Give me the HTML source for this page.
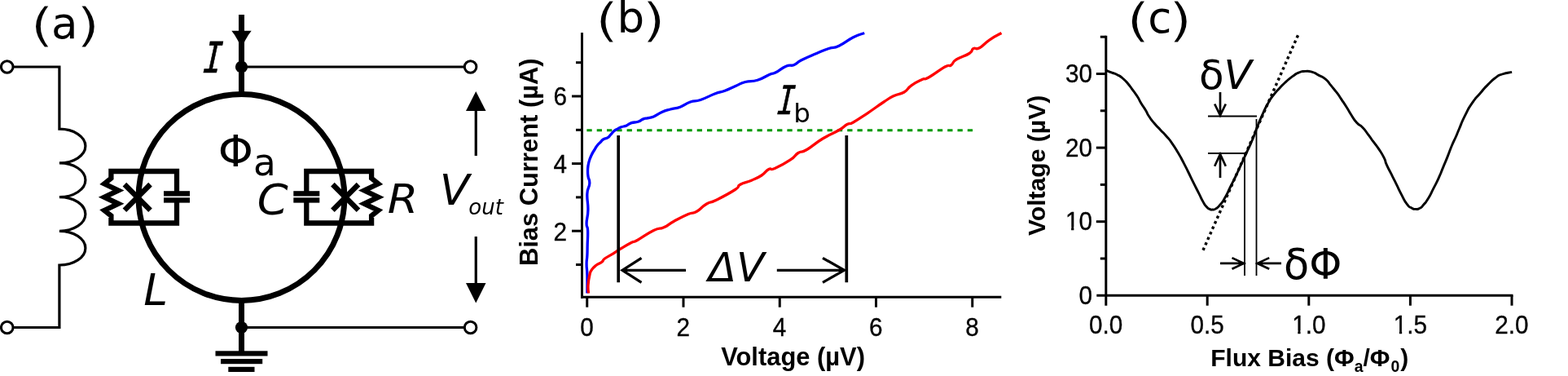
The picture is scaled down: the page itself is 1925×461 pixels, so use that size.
<!DOCTYPE html>
<html lang="en">
<head>
<meta charset="utf-8">
<title>SQUID figure</title>
<style>
html,body{margin:0;padding:0;background:#fff;}
body{width:1925px;height:461px;overflow:hidden;}
svg{display:block;}
text{white-space:pre;}
</style>
</head>
<body>
<svg width="1925" height="461" viewBox="0 0 1925 461">
<rect x="0" y="0" width="1925" height="461" fill="#fff"/>
<g id="panel-a">
<g fill="none" stroke="#000" stroke-width="3.2">
<path d="M15.5 82 H72.9 V158.2 A32 20.85 0 0 1 72.9 199.9 A32 20.85 0 0 1 72.9 241.6 A32 20.85 0 0 1 72.9 283.3 A32 20.85 0 0 1 72.9 325 V401.5 H15.5"/>
<circle cx="8.7" cy="82" r="7.3" stroke-width="3"/><circle cx="8.7" cy="401.5" r="7.3" stroke-width="3"/>
<path d="M296.5 82 H571"/><path d="M296.5 401.5 H571"/>
<circle cx="577.6" cy="82" r="7.3" stroke-width="3"/><circle cx="577.6" cy="401.5" r="7.3" stroke-width="3"/>
<path d="M584.25 130 V191"/><path d="M584.25 290 V350"/>
</g>
<path d="M584.25 112 L596.5 136 H572 Z" fill="#000"/>
<path d="M584.25 371.5 L596.5 347 H572 Z" fill="#000"/>
<g fill="none" stroke="#000" stroke-width="7">
<circle cx="296.5" cy="242" r="126.4"/>
<path d="M296.5 18 V116"/><path d="M296.5 368 V431"/>
</g>
<circle cx="296.5" cy="82" r="7.6" fill="#000"/><circle cx="296.5" cy="401.5" r="7.6" fill="#000"/>
<path d="M284.3 37.8 H308.7 Q299.5 49 296.5 62.5 Q293.5 49 284.3 37.8 Z" fill="#000"/>
<rect x="264.5" y="430.3" width="64" height="6.2" fill="#000"/>
<rect x="271" y="440" width="51.2" height="6.2" fill="#000"/>
<rect x="280.3" y="449.8" width="32.2" height="6.2" fill="#000"/>
<g fill="none" stroke="#000" stroke-width="6.3" stroke-linejoin="miter" stroke-miterlimit="10">
<polyline points="217.00,237.00 217.00,210.00 136.40,210.00 136.40,218.60 128.10,225.40 145.20,233.50 128.10,241.70 145.20,249.80 128.10,258.00 136.40,264.60 136.40,273.50 217.00,273.50 217.00,246.00"/>
</g>
<rect x="201" y="234.2" width="32" height="6.3" fill="#000"/>
<rect x="201" y="242.3" width="32" height="6.3" fill="#000"/>
<g fill="none" stroke="#000" stroke-width="6.3" stroke-linejoin="miter" stroke-miterlimit="10">
<polyline points="376.30,237.00 376.30,210.00 456.10,210.00 456.10,218.60 464.40,225.40 447.30,233.50 464.40,241.70 447.30,249.80 464.40,258.00 456.10,264.60 456.10,273.50 376.30,273.50 376.30,246.00"/>
</g>
<rect x="360.3" y="234.2" width="32" height="6.3" fill="#000"/>
<rect x="360.3" y="242.3" width="32" height="6.3" fill="#000"/>
<path d="M152.89999999999998 226.1 L184.5 257.7 M152.89999999999998 257.7 L184.5 226.1" stroke="#000" stroke-width="6.5" fill="none"/>
<path d="M408.4 226.1 L440.0 257.7 M408.4 257.7 L440.0 226.1" stroke="#000" stroke-width="6.5" fill="none"/>
<g font-family="'DejaVu Sans', sans-serif" fill="#000">
<text transform="translate(36.77 50.30) scale(1.32 1)" font-size="57.8" stroke="#fff" stroke-width="1.1">(</text><text x="63.12" y="47.1" font-size="53">a</text><text transform="translate(93.17 50.30) scale(1.32 1)" font-size="57.8" stroke="#fff" stroke-width="1.1">)</text>
<text transform="translate(248.7 88.7) skewX(-4) scale(0.75 1)" font-size="52.2" font-family="'DejaVu Sans Mono', monospace" font-style="italic" stroke="#000" stroke-width="0.7">I</text>
<text transform="translate(267.66 204.20) scale(1.02 1)" font-size="53.8" font-family="'DejaVu Sans', sans-serif">Φ</text>
<text x="310.98" y="214.70" font-size="45.3" font-family="'DejaVu Sans', sans-serif">a</text>
<text transform="translate(315.83 263.00) scale(1.05 1)" font-size="51.7" font-family="'DejaVu Sans', sans-serif" font-style="italic">C</text>
<text transform="translate(475.72 261.00) scale(1.08 1)" font-size="50.0" font-family="'DejaVu Sans', sans-serif" font-style="italic">R</text>
<text x="176.13" y="373.70" font-size="53.5" font-family="'DejaVu Sans', sans-serif" font-style="italic">L</text>
<text transform="translate(539.75 250.60) scale(1.04 1)" font-size="51.5" font-family="'DejaVu Sans', sans-serif" font-style="italic">V</text>
<text x="575.26" y="263.30" font-size="26.0" font-family="'DejaVu Sans', sans-serif" font-style="italic">out</text>
</g>
</g>
<g id="panel-b">
<g fill="none" stroke="#000" stroke-width="3">
<path d="M714.5 40 V365.7"/><path d="M713 364.3 H1229.3"/>
<path d="M707.0 324.50 H714.5"/>
<path d="M702.0 283.20 H714.5"/>
<path d="M707.0 241.90 H714.5"/>
<path d="M702.0 200.60 H714.5"/>
<path d="M707.0 159.30 H714.5"/>
<path d="M702.0 118.00 H714.5"/>
<path d="M707.0 76.70 H714.5"/>
<path d="M720.75 364.3 V376.7"/>
<path d="M839.00 364.3 V376.7"/>
<path d="M957.25 364.3 V376.7"/>
<path d="M1075.50 364.3 V376.7"/>
<path d="M1193.75 364.3 V376.7"/>
</g>
<path d="M720.4 159.7 H1195" stroke="#009900" stroke-width="3" stroke-dasharray="6.3 6" fill="none"/>
<path d="M720.9 359.5 C720.9 353.6 721.1 347.0 720.9 337.5 C720.7 328.0 720.1 330.3 720.1 323.8 C720.1 317.2 720.6 319.3 720.9 313.0 C721.2 306.7 721.0 308.1 721.2 300.0 C721.4 291.9 721.9 289.5 721.6 282.5 C721.4 275.5 720.0 280.4 720.1 273.8 C720.2 267.1 721.7 267.2 721.9 257.5 C722.1 247.8 720.4 246.2 720.9 237.5 C721.4 228.8 723.5 230.7 723.8 225.0 C724.1 219.3 722.6 220.9 722.0 216.2 C721.4 211.5 721.4 212.1 721.6 207.5 C721.8 202.9 721.7 203.5 722.9 198.9 C724.1 194.3 724.1 194.5 726.1 190.2 C728.1 185.9 728.5 185.9 730.5 182.6 C732.5 179.3 731.6 180.3 733.5 178.0 C735.4 175.7 735.6 175.9 737.5 174.0 C739.4 172.1 738.3 172.4 740.5 171.0 C742.7 169.6 743.4 170.3 745.9 168.8 C748.4 167.3 747.5 167.4 749.7 165.2 C751.9 163.0 751.7 162.5 754.0 160.6 C756.3 158.7 756.1 159.2 758.4 157.9 C760.7 156.6 759.8 156.9 762.7 155.8 C765.6 154.7 765.9 155.3 769.2 153.9 C772.5 152.5 771.4 151.8 775.2 150.6 C779.0 149.4 779.4 150.6 783.3 149.3 C787.2 148.0 786.7 147.1 789.8 145.9 C792.9 144.7 791.6 145.6 795.0 144.8 C798.4 144.0 797.8 144.9 802.5 143.0 C807.2 141.1 807.0 139.9 812.5 137.5 C818.0 135.1 817.0 135.7 823.0 134.0 C829.0 132.3 828.5 133.7 835.0 131.2 C841.5 128.8 840.8 127.3 847.5 125.0 C854.2 122.7 852.0 125.2 860.0 122.5 C868.0 119.8 869.5 118.0 877.5 115.0 C885.5 112.0 883.2 113.8 890.0 111.2 C896.8 108.7 896.3 108.4 903.0 105.5 C909.7 102.6 907.8 102.4 915.0 100.5 C922.2 98.6 922.0 100.7 930.0 98.2 C938.0 95.8 939.0 93.8 945.0 91.2 C951.0 88.7 947.2 91.4 952.5 88.8 C957.8 86.1 959.0 83.7 965.0 81.2 C971.0 78.8 970.0 81.5 975.0 79.5 C980.0 77.5 976.4 77.5 983.8 73.8 C991.1 70.0 993.5 69.3 1002.5 65.5 C1011.5 61.7 1010.2 62.0 1017.5 59.5 C1024.8 57.0 1022.0 59.9 1030.0 56.2 C1038.0 52.6 1039.2 50.0 1047.5 45.8 C1055.8 41.5 1057.6 41.9 1061.2 40.5" fill="none" stroke="#0000ff" stroke-width="3.3" stroke-linejoin="round"/>
<path d="M722.5 359.5 C722.4 357.0 721.7 355.9 722.0 350.0 C722.3 344.1 722.6 342.5 723.8 337.5 C724.9 332.5 724.2 334.4 726.2 331.2 C728.2 328.1 727.9 328.4 731.2 325.8 C734.6 323.1 735.8 323.6 738.8 321.2 C741.8 318.9 738.8 319.7 742.5 317.0 C746.2 314.3 747.8 314.1 752.5 311.2 C757.2 308.4 754.0 309.9 760.0 306.2 C766.0 302.6 769.0 300.6 775.0 297.5 C781.0 294.4 775.2 298.5 782.5 294.5 C789.8 290.5 793.8 286.7 802.5 282.5 C811.2 278.3 808.3 281.8 815.0 278.8 C821.7 275.8 819.5 275.6 827.5 271.2 C835.5 266.9 837.7 265.6 845.0 262.5 C852.3 259.4 849.0 262.8 855.0 259.5 C861.0 256.2 860.8 253.9 867.5 250.0 C874.2 246.1 870.7 249.7 880.0 245.0 C889.3 240.3 894.8 237.5 902.5 232.5 C910.2 227.5 903.4 229.2 908.8 226.2 C914.1 223.2 915.5 224.2 922.5 221.2 C929.5 218.2 929.3 218.7 935.0 215.0 C940.7 211.3 939.4 209.8 943.8 207.5 C948.1 205.2 944.2 209.5 951.2 206.5 C958.2 203.5 962.3 201.3 970.0 196.2 C977.7 191.2 974.7 190.8 980.0 187.5 C985.3 184.2 982.0 188.4 990.0 183.8 C998.0 179.1 999.3 176.5 1010.0 170.0 C1020.7 163.5 1022.0 164.2 1030.0 159.5 C1038.0 154.8 1035.3 155.0 1040.0 152.5 C1044.7 150.0 1040.8 153.7 1047.5 150.0 C1054.2 146.3 1055.0 145.4 1065.0 138.8 C1075.0 132.1 1076.3 130.7 1085.0 125.0 C1093.7 119.3 1090.8 120.7 1097.5 117.5 C1104.2 114.3 1104.3 116.4 1110.0 113.0 C1115.7 109.6 1112.9 108.9 1118.8 104.8 C1124.6 100.6 1126.3 100.1 1132.0 97.5 C1137.7 94.9 1132.5 99.1 1140.0 95.0 C1147.5 90.9 1152.7 86.0 1160.0 82.0 C1167.3 78.0 1163.8 82.3 1167.5 80.0 C1171.2 77.7 1167.8 77.1 1173.8 73.2 C1179.8 69.4 1184.3 69.2 1190.0 65.5 C1195.7 61.8 1191.7 61.3 1195.0 59.5 C1198.3 57.7 1197.2 61.6 1202.5 58.8 C1207.8 55.9 1207.8 53.6 1215.0 48.8 C1222.2 43.9 1225.6 42.7 1229.5 40.5" fill="none" stroke="#ff0000" stroke-width="3.3" stroke-linejoin="round"/>
<g fill="none" stroke="#000" stroke-width="3.7">
<path d="M759.2 166 V346.3"/><path d="M1039.3 166 V346.3"/>
</g>
<g fill="none" stroke="#000" stroke-width="3.2">
<path d="M842 331.3 H764.5 M787.5 316.3 L764 331.3 L787.5 346.3"/>
<path d="M953.8 331.3 H1036 M1010 316.3 L1036.5 331.3 L1010 346.3"/>
</g>
<g font-family="'Liberation Sans', sans-serif" font-size="30" fill="#000">
<text transform="translate(696.00 294.50) scale(0.94 1)" font-size="31.6" text-anchor="end" stroke="#000" stroke-width="0.35">2</text>
<text transform="translate(696.00 211.90) scale(0.94 1)" font-size="31.6" text-anchor="end" stroke="#000" stroke-width="0.35">4</text>
<text transform="translate(696.00 129.30) scale(0.94 1)" font-size="31.6" text-anchor="end" stroke="#000" stroke-width="0.35">6</text>
<text transform="translate(720.45 412.30) scale(0.94 1)" font-size="31.6" text-anchor="middle" stroke="#000" stroke-width="0.35">0</text>
<text transform="translate(838.70 412.30) scale(0.94 1)" font-size="31.6" text-anchor="middle" stroke="#000" stroke-width="0.35">2</text>
<text transform="translate(956.95 412.30) scale(0.94 1)" font-size="31.6" text-anchor="middle" stroke="#000" stroke-width="0.35">4</text>
<text transform="translate(1075.20 412.30) scale(0.94 1)" font-size="31.6" text-anchor="middle" stroke="#000" stroke-width="0.35">6</text>
<text transform="translate(1193.45 412.30) scale(0.94 1)" font-size="31.6" text-anchor="middle" stroke="#000" stroke-width="0.35">8</text>
<text x="973.6" y="448" text-anchor="middle" font-weight="bold" font-size="30.9">Voltage (µV)</text>
<text transform="translate(659.5 198.7) rotate(-90)" text-anchor="middle" font-weight="bold" font-size="30.9">Bias Current (µA)</text>
</g>
<g font-family="'DejaVu Sans', sans-serif" fill="#000">
<text transform="translate(730.37 43.60) scale(1.32 1)" font-size="57.8" stroke="#fff" stroke-width="1.1">(</text><text x="757.43" y="40.4" font-size="53">b</text><text transform="translate(787.67 43.60) scale(1.32 1)" font-size="57.8" stroke="#fff" stroke-width="1.1">)</text>
<text x="869.6" y="344.6" font-size="50.4" font-style="italic">ΔV</text>
<text transform="translate(953.6 140.2) skewX(-4) scale(0.75 1)" font-size="48.4" font-family="'DejaVu Sans Mono', monospace" font-style="italic" stroke="#000" stroke-width="0.7">I</text>
<text x="974.28" y="149.80" font-size="32.5" font-family="'DejaVu Sans', sans-serif">b</text>
</g>
</g>
<g id="panel-c">
<g fill="none" stroke="#000" stroke-width="3">
<path d="M1357.8 43.7 V374.7"/><path d="M1346.3 362.3 H1857.5"/>
<path d="M1350.8 317.00 H1357.8"/>
<path d="M1345.8 271.70 H1357.8"/>
<path d="M1350.8 226.40 H1357.8"/>
<path d="M1345.8 181.10 H1357.8"/>
<path d="M1350.8 135.80 H1357.8"/>
<path d="M1345.8 90.50 H1357.8"/>
<path d="M1350.8 45.20 H1357.8"/>
<path d="M1482.20 362.3 V374.7"/>
<path d="M1606.80 362.3 V374.7"/>
<path d="M1731.40 362.3 V374.7"/>
<path d="M1856.00 362.3 V374.7"/>
</g>
<path d="M1358.0 86.4 C1360.4 87.3 1360.6 87.3 1365.2 89.1 C1369.8 90.9 1367.4 89.4 1371.7 91.7 C1376.0 94.0 1373.9 92.4 1378.2 96.0 C1382.5 99.6 1380.4 97.4 1384.7 102.5 C1389.0 107.6 1387.2 105.8 1391.2 111.2 C1395.2 116.6 1393.3 113.6 1396.6 118.8 C1399.9 124.0 1397.7 121.4 1401.0 126.8 C1404.3 132.2 1403.2 129.7 1406.4 135.0 C1409.6 140.3 1407.1 137.3 1410.7 142.7 C1414.3 148.1 1412.5 145.7 1417.2 151.3 C1421.9 156.9 1420.0 154.3 1424.8 159.4 C1429.6 164.5 1426.8 161.0 1431.5 166.5 C1436.2 172.0 1434.0 168.7 1439.0 175.8 C1444.0 182.9 1442.3 180.6 1446.6 187.8 C1450.9 195.0 1448.0 189.9 1452.0 197.5 C1456.0 205.1 1454.3 201.8 1458.6 210.5 C1462.9 219.2 1460.7 214.9 1465.0 223.6 C1469.3 232.3 1467.6 228.7 1471.6 236.6 C1475.6 244.5 1473.8 241.8 1477.0 247.4 C1480.2 253.0 1478.6 250.5 1481.3 253.5 C1484.0 256.5 1482.8 255.2 1485.2 256.4 C1487.6 257.6 1486.1 257.2 1488.6 257.0 C1491.1 256.8 1489.4 258.0 1492.6 255.9 C1495.8 253.8 1494.4 255.3 1498.2 250.7 C1502.0 246.1 1500.0 249.2 1504.1 242.0 C1508.2 234.8 1506.3 237.7 1510.6 229.0 C1514.9 220.3 1512.8 225.0 1517.1 216.0 C1521.4 207.0 1519.3 211.3 1523.6 201.9 C1527.9 192.5 1526.1 196.5 1530.1 187.8 C1534.1 179.1 1532.5 182.9 1535.6 175.8 C1538.7 168.7 1536.7 173.6 1539.5 166.5 C1542.3 159.4 1540.3 163.6 1543.9 154.6 C1547.5 145.6 1546.1 148.8 1550.4 139.4 C1554.7 130.0 1552.6 134.0 1556.9 126.4 C1561.2 118.8 1558.7 122.7 1563.4 116.6 C1568.1 110.5 1565.9 113.4 1571.0 108.0 C1576.1 102.6 1573.2 105.3 1578.6 100.4 C1584.0 95.5 1581.8 97.2 1587.2 93.4 C1592.6 89.6 1589.7 90.9 1594.8 88.9 C1599.9 86.9 1597.0 87.6 1602.4 87.4 C1607.8 87.2 1605.7 86.8 1611.1 88.4 C1616.5 90.0 1613.3 89.2 1618.7 92.1 C1624.1 95.0 1622.3 92.9 1627.4 97.1 C1632.5 101.3 1629.6 99.5 1633.9 104.7 C1638.2 109.9 1636.1 107.0 1640.4 112.6 C1644.7 118.2 1642.4 115.2 1646.7 121.6 C1651.0 128.0 1649.5 125.6 1653.4 131.8 C1657.3 138.0 1654.5 134.0 1658.5 140.2 C1662.5 146.4 1660.7 145.0 1665.5 150.3 C1670.3 155.6 1668.0 151.2 1672.8 156.2 C1677.6 161.2 1675.6 159.6 1680.0 165.4 C1684.4 171.2 1681.8 168.0 1686.0 173.7 C1690.2 179.4 1688.2 175.9 1692.5 182.4 C1696.8 188.9 1695.7 186.7 1699.0 193.2 C1702.3 199.7 1699.4 195.4 1702.3 201.9 C1705.2 208.4 1703.7 204.8 1707.7 212.7 C1711.7 220.6 1709.9 217.0 1714.2 225.7 C1718.5 234.4 1716.4 230.6 1720.7 238.8 C1725.0 247.0 1723.2 244.9 1727.2 250.2 C1731.2 255.5 1729.1 252.7 1732.7 254.8 C1736.3 256.9 1734.5 256.3 1738.1 256.4 C1741.7 256.5 1740.2 256.9 1743.5 255.0 C1746.8 253.1 1744.6 254.5 1747.9 250.7 C1751.2 246.9 1749.3 250.1 1753.3 243.6 C1757.3 237.1 1755.5 239.7 1759.8 231.2 C1764.1 222.7 1762.3 226.8 1766.3 218.1 C1770.3 209.4 1768.1 213.8 1771.7 205.1 C1775.3 196.4 1773.5 201.1 1777.1 192.1 C1780.7 183.1 1779.2 186.0 1782.6 178.0 C1786.0 170.0 1784.3 174.5 1787.2 168.0 C1790.1 161.5 1787.4 167.3 1791.2 158.5 C1795.0 149.7 1793.2 152.3 1798.6 141.6 C1804.0 130.9 1801.1 135.4 1807.3 126.4 C1813.5 117.4 1810.6 122.1 1817.1 114.5 C1823.6 106.9 1820.3 110.1 1826.8 103.6 C1833.3 97.1 1830.8 99.1 1836.6 94.9 C1842.4 90.7 1837.7 93.2 1844.2 91.0 C1850.7 88.8 1852.1 89.3 1856.1 88.4" fill="none" stroke="#000" stroke-width="2.9" stroke-linejoin="round"/>
<path d="M1593.5 43.25 L1477 306.75" stroke="#000" stroke-width="3.4" stroke-dasharray="3.4 3.72" fill="none"/>
<g fill="none" stroke="#000" stroke-width="1.8">
<path d="M1483 142.5 H1543"/><path d="M1483 188 H1528.8"/>
<path d="M1528 188 V338"/><path d="M1542.5 146 V338"/>
</g>
<g fill="none" stroke="#000" stroke-width="2.7">
<path d="M1498 113 V141 M1491.2 127.5 L1498 141.5 L1504.8 127.5"/>
<path d="M1498 218 V189.5 M1491.2 203.8 L1498 189 L1504.8 203.8"/>
<path d="M1498 322.9 H1526.5 M1512.5 316.1 L1527 322.9 L1512.5 329.7"/>
<path d="M1573 322.9 H1544 M1558.2 316.1 L1543.7 322.9 L1558.2 329.7"/>
</g>
<g font-family="'Liberation Sans', sans-serif" font-size="30" fill="#000">
<text transform="translate(1341.00 372.80) scale(0.94 1)" font-size="31.6" text-anchor="end" stroke="#000" stroke-width="0.35">0</text>
<text transform="translate(1341.00 282.20) scale(0.94 1)" font-size="31.6" text-anchor="end" stroke="#000" stroke-width="0.35">10</text><rect x="1308.62" y="278.06" width="6.49" height="6.04" fill="#fff"/><rect x="1318.37" y="278.06" width="6.26" height="6.04" fill="#fff"/>
<text transform="translate(1341.00 191.60) scale(0.94 1)" font-size="31.6" text-anchor="end" stroke="#000" stroke-width="0.35">20</text>
<text transform="translate(1341.00 101.00) scale(0.94 1)" font-size="31.6" text-anchor="end" stroke="#000" stroke-width="0.35">30</text>
<text transform="translate(1357.60 409.30) scale(0.94 1)" font-size="31.6" text-anchor="middle" stroke="#000" stroke-width="0.35">0.0</text>
<text transform="translate(1482.20 409.30) scale(0.94 1)" font-size="31.6" text-anchor="middle" stroke="#000" stroke-width="0.35">0.5</text>
<text transform="translate(1606.80 409.30) scale(0.94 1)" font-size="31.6" text-anchor="middle" stroke="#000" stroke-width="0.35">1.0</text><rect x="1586.82" y="405.16" width="6.49" height="6.04" fill="#fff"/><rect x="1596.56" y="405.16" width="6.26" height="6.04" fill="#fff"/>
<text transform="translate(1731.40 409.30) scale(0.94 1)" font-size="31.6" text-anchor="middle" stroke="#000" stroke-width="0.35">1.5</text><rect x="1711.42" y="405.16" width="6.49" height="6.04" fill="#fff"/><rect x="1721.16" y="405.16" width="6.26" height="6.04" fill="#fff"/>
<text transform="translate(1856.00 409.30) scale(0.94 1)" font-size="31.6" text-anchor="middle" stroke="#000" stroke-width="0.35">2.0</text>
<text x="1486.3" y="448.6" font-weight="bold" font-size="30">Flux Bias (Φ<tspan font-size="19.4" dy="7.5">a</tspan><tspan dy="-7.5">/Φ</tspan><tspan font-size="19.4" dy="7.5" dx="1">0</tspan><tspan dy="-7.5" dx="1">)</tspan></text>
<text transform="translate(1282.6 202.9) rotate(-90)" text-anchor="middle" font-weight="bold" font-size="30.1">Voltage (µV)</text>
</g>
<g font-family="'DejaVu Sans', sans-serif" fill="#000">
<text transform="translate(1382.47 43.50) scale(1.32 1)" font-size="57.8" stroke="#fff" stroke-width="1.1">(</text><text x="1409.15" y="40.3" font-size="53">c</text><text transform="translate(1434.17 43.50) scale(1.32 1)" font-size="57.8" stroke="#fff" stroke-width="1.1">)</text>
<text x="1472" y="109" font-size="50">δ<tspan font-style="italic">V</tspan></text>
<text x="1576" y="342.4" font-size="51">δΦ</text>
</g>
</g>
</svg>
</body>
</html>
